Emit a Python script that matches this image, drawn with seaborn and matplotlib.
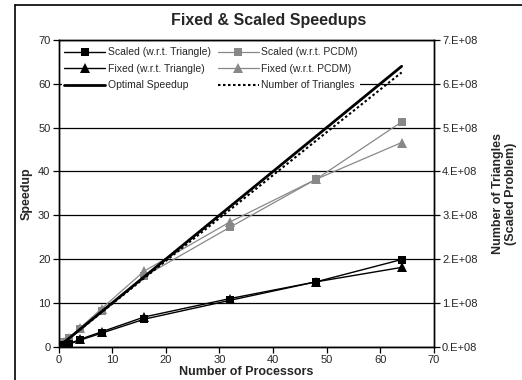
import numpy as np
import pandas as pd
import seaborn as sns
import matplotlib.pyplot as plt
from matplotlib.lines import Line2D

# Data
procs = [1, 2, 4, 8, 16, 32, 48, 64]
scaled_tri = [0.3, 0.6, 1.5, 3.1, 6.3, 10.6, 14.8, 19.9]
fixed_tri = [0.3, 0.7, 1.7, 3.4, 6.8, 11.0, 14.8, 18.1]
scaled_pcdm = [1.0, 2.0, 4.1, 8.1, 16.1, 27.3, 38.2, 51.3]
fixed_pcdm = [1.0, 2.0, 4.3, 8.7, 17.3, 28.5, 38.2, 46.6]
optimal_x = [1, 64]
optimal_y = [1, 64]
num_triangles = [1.0e7, 2.0e7, 3.9e7, 7.85e7, 1.57e8, 3.13e8, 4.7e8, 6.26e8]

sns.set_style("white")
plt.rcParams['font.family'] = ['Liberation Sans', 'DejaVu Sans']

fig = plt.figure(figsize=(5.22, 3.8), dpi=100)
ax = fig.add_axes([0.1125, 0.0876, 0.7185, 0.8071])
ax2 = ax.twinx()

gray = '#888888'

df = pd.DataFrame({'p': procs, 'st': scaled_tri, 'ft': fixed_tri,
                   'sp': scaled_pcdm, 'fp': fixed_pcdm, 'nt': num_triangles})

sns.lineplot(data=df, x='p', y='sp', ax=ax, color=gray, lw=0.9,
             marker='s', markersize=6, markeredgewidth=0, zorder=3)
sns.lineplot(data=df, x='p', y='fp', ax=ax, color=gray, lw=0.9,
             marker='^', markersize=6.5, markeredgewidth=0, zorder=3)
sns.lineplot(data=df, x='p', y='st', ax=ax, color='black', lw=1.0,
             marker='s', markersize=6, markeredgewidth=0, zorder=4)
sns.lineplot(data=df, x='p', y='ft', ax=ax, color='black', lw=1.0,
             marker='^', markersize=6.5, markeredgewidth=0, zorder=4)
sns.lineplot(x=optimal_x, y=optimal_y, ax=ax, color='black', lw=2.0, zorder=5)
sns.lineplot(data=df, x='p', y='nt', ax=ax2, color='black', lw=1.5,
             linestyle=(0, (1.2, 1.2)))

ax.set_xlim(0, 70)
ax.set_ylim(0, 70)
ax.set_xticks(range(0, 71, 10))
ax.set_yticks(range(0, 71, 10))
ax2.set_ylim(0, 7e8)
ax2.set_yticks(np.arange(0, 8e8, 1e8))
ax2.set_yticklabels([f'{i}.E+08' for i in range(8)])

ax.yaxis.grid(True, color='black', lw=0.9)
ax.xaxis.grid(False)
ax.set_axisbelow(True)
for a in (ax, ax2):
    for s in a.spines.values():
        s.set_color('black')
        s.set_linewidth(1.0)
    a.tick_params(labelsize=8, length=4, width=0.9, color='black', pad=2)
ax.tick_params(axis='x', bottom=True, direction='out')
ax.tick_params(axis='y', left=True, direction='out')
ax2.tick_params(axis='y', right=True, direction='out')

ax.set_xlabel('Number of Processors', fontsize=9, fontweight='bold', labelpad=1)
ax.set_ylabel('Speedup', fontsize=9, fontweight='bold', labelpad=4)
ax2.set_ylabel('Number of Triangles\n(Scaled Problem)', fontsize=9,
               fontweight='bold', labelpad=10)
fig.text(0.515, 0.945, 'Fixed & Scaled Speedups', fontsize=11.5,
         fontweight='bold', ha='center', va='center')

handles = [
    Line2D([], [], color='black', lw=1.0, marker='s', markersize=6, markeredgewidth=0),
    Line2D([], [], color='black', lw=1.0, marker='^', markersize=6.5, markeredgewidth=0),
    Line2D([], [], color='black', lw=2.0),
    Line2D([], [], color=gray, lw=0.9, marker='s', markersize=6, markeredgewidth=0),
    Line2D([], [], color=gray, lw=0.9, marker='^', markersize=6.5, markeredgewidth=0),
    Line2D([], [], color='black', lw=1.5, linestyle=(0, (1.2, 1.2))),
]
labels = ['Scaled (w.r.t. Triangle)', 'Fixed (w.r.t. Triangle)', 'Optimal Speedup',
          'Scaled (w.r.t. PCDM)', 'Fixed (w.r.t. PCDM)', 'Number of Triangles']
leg = ax2.legend(handles, labels, ncol=2, loc='upper left',
                 bbox_to_anchor=(0.0, 0.995), fontsize=7.5, frameon=True,
                 handlelength=3.9, handletextpad=0.25, columnspacing=0.7,
                 labelspacing=0.62, borderaxespad=0.3, borderpad=0.25)
leg.get_frame().set_facecolor('white')
leg.get_frame().set_edgecolor('none')
leg.get_frame().set_alpha(1)
leg.get_frame().set_boxstyle('square', pad=0)

# outer chart-area border
fig.add_artist(Line2D([15 / 522, 15 / 522], [0, 1 - 5 / 380], color='black',
                      lw=1.2, transform=fig.transFigure))
fig.add_artist(Line2D([15 / 522, 1], [1 - 5 / 380, 1 - 5 / 380], color='black',
                      lw=1.2, transform=fig.transFigure))

fig.savefig('out.png', dpi=100, facecolor='white')
